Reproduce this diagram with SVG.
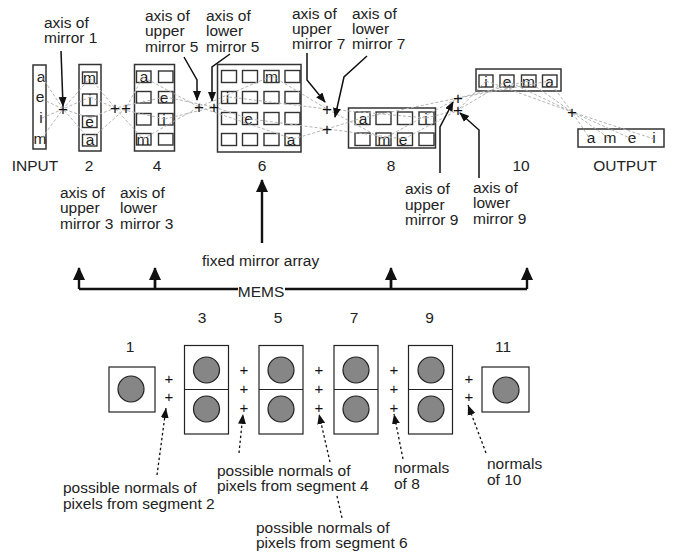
<svg xmlns="http://www.w3.org/2000/svg" width="675" height="555" viewBox="0 0 675 555">
<style>
text{font-family:"Liberation Sans",Arial,sans-serif;font-size:15.5px;fill:#222}
.m{text-anchor:middle}
.p{text-anchor:middle;font-size:17px;fill:#111}
.q{text-anchor:middle;font-size:15px;fill:#111}
.o{fill:#fff;stroke:#333;stroke-width:1.5}
.c{fill:#fff;stroke:#333;stroke-width:1.4}
.s{fill:#fff;stroke:#222;stroke-width:1.2}
.d{fill:#868686;stroke:#222;stroke-width:1.2}
.g{fill:none;stroke:#b4b4b4;stroke-width:1;stroke-dasharray:3 2}
.a{fill:none;stroke:#111;stroke-width:1.5;marker-end:url(#h)}
.b{fill:none;stroke:#111;stroke-width:2.4}
.t{fill:none;stroke:#111;stroke-width:1.3;stroke-dasharray:2.5 2.5}
</style>
<defs>
<marker id="h" markerUnits="userSpaceOnUse" markerWidth="12" markerHeight="10" refX="9" refY="4" orient="auto"><path d="M0 0L10 4L0 8Z" fill="#111"/></marker>
<marker id="k" markerUnits="userSpaceOnUse" markerWidth="14" markerHeight="12" refX="10" refY="5" orient="auto"><path d="M0 0L10 4L0 8Z" fill="#111" transform="translate(0 1)"/></marker>
<marker id="B" markerUnits="userSpaceOnUse" markerWidth="16" markerHeight="14" refX="12" refY="6" orient="auto"><path d="M0 0L13 6L0 12Z" fill="#111"/></marker>
</defs>

<g id="segment-input"><rect class="o" x="33" y="65" width="13" height="84"/>
<text class="m" x="41" y="82">a</text><text class="m" x="40" y="102">e</text><text class="m" x="41" y="123">i</text><text class="m" x="40" y="144">m</text></g>

<g id="segment-2"><rect class="o" x="79" y="64.500" width="22" height="86.500"/>
<rect class="c" x="82.500" y="72" width="14.500" height="11.500"/><rect class="c" x="82.500" y="94" width="14.500" height="11.500"/><rect class="c" x="82.500" y="116" width="14.500" height="11.500"/><rect class="c" x="82.500" y="134.500" width="14.500" height="11.500"/>
<text class="m" x="89.500" y="83">m</text><text class="m" x="90" y="105">i</text><text class="m" x="89.500" y="127">e</text><text class="m" x="90" y="145">a</text></g>

<g id="segment-4"><rect class="o" x="134.500" y="64.500" width="40" height="86.500"/>
<rect class="c" x="136.500" y="71" width="14.500" height="11.500"/><rect class="c" x="158.500" y="71" width="14.500" height="11.500"/>
<rect class="c" x="136.500" y="91.500" width="14.500" height="11.500"/><rect class="c" x="158.500" y="91.500" width="14.500" height="11.500"/>
<rect class="c" x="136.500" y="113.500" width="14.500" height="11.500"/><rect class="c" x="158.500" y="113.500" width="14.500" height="11.500"/>
<rect class="c" x="136.500" y="133.500" width="14.500" height="11.500"/><rect class="c" x="158.500" y="133.500" width="14.500" height="11.500"/>
<text class="m" x="144" y="82">a</text><text class="m" x="164" y="103">e</text><text class="m" x="164" y="125">i</text><text class="m" x="143" y="145">m</text></g>

<g id="segment-6"><rect class="o" x="217.500" y="64.500" width="83.500" height="87.500"/>
<g id="segment-6-cells">
<rect class="c" x="221.500" y="70.500" width="15" height="12"/><rect class="c" x="242.500" y="70.500" width="15" height="12"/><rect class="c" x="264" y="70.500" width="15" height="12"/><rect class="c" x="285" y="70.500" width="15" height="12"/>
<rect class="c" x="221.500" y="91.500" width="15" height="12"/><rect class="c" x="242.500" y="91.500" width="15" height="12"/><rect class="c" x="264" y="91.500" width="15" height="12"/><rect class="c" x="285" y="91.500" width="15" height="12"/>
<rect class="c" x="221.500" y="112.500" width="15" height="12"/><rect class="c" x="242.500" y="112.500" width="15" height="12"/><rect class="c" x="264" y="112.500" width="15" height="12"/><rect class="c" x="285" y="112.500" width="15" height="12"/>
<rect class="c" x="221.500" y="133.500" width="15" height="12"/><rect class="c" x="242.500" y="133.500" width="15" height="12"/><rect class="c" x="264" y="133.500" width="15" height="12"/><rect class="c" x="285" y="133.500" width="15" height="12"/>
</g>
<text class="m" x="271.500" y="82">m</text><text class="m" x="227.500" y="103">i</text><text class="m" x="248.500" y="124">e</text><text class="m" x="291" y="145">a</text></g>

<g id="segment-8"><rect class="o" x="348.500" y="108" width="87" height="40"/>
<rect class="c" x="355" y="112" width="15" height="12.500"/><rect class="c" x="376" y="112" width="15" height="12.500"/><rect class="c" x="397.500" y="112" width="15" height="12.500"/><rect class="c" x="419" y="112" width="15" height="12.500"/>
<rect class="c" x="355" y="133" width="15" height="12.500"/><rect class="c" x="376" y="133" width="15" height="12.500"/><rect class="c" x="397.500" y="133" width="15" height="12.500"/><rect class="c" x="419" y="133" width="15" height="12.500"/>
<text class="m" x="363" y="124">a</text><text class="m" x="426" y="124">i</text><text class="m" x="384" y="145">m</text><text class="m" x="403" y="145">e</text></g>

<g id="segment-10"><rect class="o" x="476" y="69" width="85" height="22"/>
<rect class="c" x="479" y="75" width="14" height="12"/><rect class="c" x="500" y="75" width="14" height="12"/><rect class="c" x="521.500" y="75" width="14.500" height="12"/><rect class="c" x="542.500" y="75" width="14.500" height="12"/>
<text class="m" x="486" y="87">i</text><text class="m" x="507" y="87">e</text><text class="m" x="528.500" y="87">m</text><text class="m" x="549.500" y="87">a</text></g>

<g id="segment-output"><rect class="o" x="578" y="129" width="86" height="18"/>
<text class="m" x="591" y="143">a</text><text class="m" x="610" y="143">m</text><text class="m" x="632" y="143">e</text><text class="m" x="654" y="143">i</text></g>

<g id="connectors">
<path class="g" d="M42 77L63 109L90 140M42 99L63 109L90 118M42 118L63 109L90 97M42 138L63 109L90 78"/>
<path class="g" d="M90 78L115 108L143 139M90 97L115 108L165 119M90 118L115 108L165 97M90 140L126 108L143 77"/>
<path class="g" d="M143 77L199 107L293 139M165 97L214 107L250 119M143 139L199 107L272 76M165 119L214 107L229 97"/>
<path class="g" d="M272 76L327 109L383 139M229 97L327 109L426 118M250 119L327 129L404 139M293 139L327 129L362 118"/>
<path class="g" d="M362 118L458 98L549 81M426 118L458 110L486 81M383 139L458 98L528 81M404 139L458 110L507 81"/>
<path class="g" d="M486 81L572 112L654 139M507 81L572 112L632 139M528 81L572 112L610 139M549 81L572 112L590 139"/>
<path class="a" d="M61 51L63 106"/>
<path class="a" d="M184 57L197 80L197 100"/>
<path class="a" d="M230 54L212 67L212 101"/>
<path class="a" d="M307 53L307 80L325 102"/>
<path class="a" d="M367 56L344 77L335 117"/>
<path class="a" d="M440 173L440 127L453 102"/>
<path class="a" d="M479 178L479 130L460 113"/>
<path class="b" marker-end="url(#B)" d="M262 243L262 180"/>
<path class="b" d="M238 289L79 289M155 289L155 280M285 289L527 289M391 289L391 280"/>
<path class="b" marker-end="url(#B)" d="M79 289L79 268"/>
<path class="b" marker-end="url(#B)" d="M155 289L155 268"/>
<path class="b" marker-end="url(#B)" d="M391 289L391 268"/>
<path class="b" marker-end="url(#B)" d="M527 289L527 268"/>
<path class="t" marker-end="url(#k)" d="M157 475L166 408"/>
<path class="t" marker-end="url(#k)" d="M239 453L243 414"/>
<path class="t" marker-end="url(#k)" d="M330 462L319 414"/>
<path class="t" d="M337 496L342 518"/>
<path class="t" marker-end="url(#k)" d="M403 459L394 414"/>
<path class="t" marker-end="url(#k)" d="M486 453L468 405"/>
</g>

<g id="axes">
<text class="p" x="63" y="115">+</text>
<text class="p" x="115" y="114">+</text><text class="p" x="126" y="114">+</text>
<text class="p" x="199" y="113">+</text><text class="p" x="214" y="113">+</text>
<text class="p" x="327" y="115">+</text><text class="p" x="327" y="135">+</text>
<text class="p" x="458" y="104">+</text><text class="p" x="458" y="116">+</text>
<text class="p" x="572" y="118">+</text>
<text class="q" x="169" y="384">+</text><text class="q" x="169" y="402">+</text>
<text class="q" x="244" y="375">+</text><text class="q" x="244" y="394">+</text><text class="q" x="244" y="413">+</text>
<text class="q" x="319" y="375">+</text><text class="q" x="319" y="394">+</text><text class="q" x="319" y="413">+</text>
<text class="q" x="394" y="375">+</text><text class="q" x="394" y="394">+</text><text class="q" x="394" y="413">+</text>
<text class="q" x="469" y="384">+</text><text class="q" x="469" y="402">+</text>
</g>

<g id="mirror-1"><rect class="s" x="109" y="367" width="46" height="45"/><circle class="d" cx="131" cy="389" r="13"/></g>
<g id="mirror-3"><rect class="s" x="184.500" y="345.500" width="44" height="88.500"/><path class="s" d="M184.500 389.500H228.500"/><circle class="d" cx="206.500" cy="370" r="13"/><circle class="d" cx="206.500" cy="409" r="13"/></g>
<g id="mirror-5"><rect class="s" x="259" y="345.500" width="44" height="88.500"/><path class="s" d="M259 389.500H303"/><circle class="d" cx="281" cy="370" r="13"/><circle class="d" cx="281" cy="409" r="13"/></g>
<g id="mirror-7"><rect class="s" x="334" y="345.500" width="44" height="88.500"/><path class="s" d="M334 389.500H378"/><circle class="d" cx="356" cy="370" r="13"/><circle class="d" cx="356" cy="409" r="13"/></g>
<g id="mirror-9"><rect class="s" x="408.500" y="345.500" width="44" height="88.500"/><path class="s" d="M408.500 389.500H452.500"/><circle class="d" cx="431" cy="370" r="13"/><circle class="d" cx="431" cy="409" r="13"/></g>
<g id="mirror-11"><rect class="s" x="482" y="367" width="47" height="45"/><circle class="d" cx="506" cy="390" r="13"/></g>

<g id="labels">
<text x="44" y="28">axis of</text><text x="44" y="43">mirror 1</text>
<text x="145" y="21">axis of</text><text x="145" y="36">upper</text><text x="145" y="52">mirror 5</text>
<text x="206" y="21">axis of</text><text x="206" y="36">lower</text><text x="206" y="52">mirror 5</text>
<text x="292" y="19">axis of</text><text x="292" y="34">upper</text><text x="292" y="49">mirror 7</text>
<text x="352" y="19">axis of</text><text x="352" y="34">lower</text><text x="352" y="49">mirror 7</text>
<text x="60" y="198">axis of</text><text x="60" y="213">upper</text><text x="60" y="229">mirror 3</text>
<text x="120" y="198">axis of</text><text x="120" y="213">lower</text><text x="120" y="229">mirror 3</text>
<text x="405" y="194">axis of</text><text x="405" y="210">upper</text><text x="405" y="225">mirror 9</text>
<text x="473" y="193">axis of</text><text x="473" y="208">lower</text><text x="473" y="224">mirror 9</text>
<text class="m" x="35" y="171">INPUT</text><text class="m" x="89" y="171">2</text><text class="m" x="157" y="171">4</text><text class="m" x="262" y="171">6</text><text class="m" x="391" y="171">8</text><text class="m" x="521" y="171">10</text><text class="m" x="625" y="171">OUTPUT</text>
<text x="202" y="266">fixed mirror array</text>
<text class="m" x="261" y="297">MEMS</text>
<text class="m" x="130" y="352">1</text><text class="m" x="202" y="323">3</text><text class="m" x="278" y="323">5</text><text class="m" x="354" y="323">7</text><text class="m" x="429.500" y="323">9</text><text class="m" x="503" y="352">11</text>
<text x="63" y="493">possible normals of</text><text x="63" y="509">pixels from segment 2</text>
<text x="217" y="476">possible normals of</text><text x="217" y="491">pixels from segment 4</text>
<text x="256" y="533">possible normals of</text><text x="256" y="548">pixels from segment 6</text>
<text x="394" y="473">normals</text><text x="394" y="489">of 8</text>
<text x="487" y="469">normals</text><text x="487" y="485">of 10</text>
</g>
</svg>
